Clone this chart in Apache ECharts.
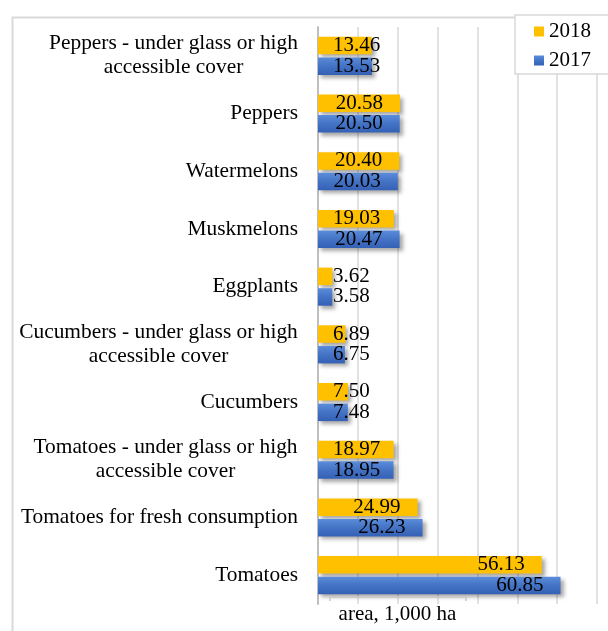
<!DOCTYPE html>
<html>
<head>
<meta charset="utf-8">
<script src="https://cdn.jsdelivr.net/npm/echarts@6/dist/echarts.min.js"></script>
<style>
  html, body { margin: 0; padding: 0; background: #fff; }
  #chart { width: 608px; height: 631px; }
</style>
</head>
<body>
<div id="chart"></div>
<script>
// Vegetable crop area, thousand hectares (bottom to top)
const categories = [
  'Tomatoes',
  'Tomatoes for fresh consumption',
  'Tomatoes - under glass or high\naccessible cover',
  'Cucumbers',
  'Cucumbers - under glass or high\naccessible cover',
  'Eggplants',
  'Muskmelons',
  'Watermelons',
  'Peppers',
  'Peppers - under glass or high\naccessible cover'
];
const values2018 = [56.13, 24.99, 18.97, 7.50, 6.89, 3.62, 19.03, 20.40, 20.58, 13.46];
const values2017 = [60.85, 26.23, 18.95, 7.48, 6.75, 3.58, 20.47, 20.03, 20.50, 13.53];
const seriesNames = ['2018', '2017'];
const axisTitle = 'area, 1,000 ha';

const FONT = '"Liberation Serif", "Times New Roman", serif';
const CAT_SIZE = 21.4;
const VAL_SIZE = 21;

// measure the lines of two-line labels so both lines can be centred within the block
const ctx = document.createElement('canvas').getContext('2d');
ctx.font = CAT_SIZE + 'px ' + FONT;
const rich = {
  s: { fontFamily: FONT, fontSize: CAT_SIZE, color: '#000', lineHeight: 24 }
};
categories.forEach((c, i) => {
  const lines = c.split('\n');
  if (lines.length > 1) {
    const w = Math.ceil(Math.max(...lines.map(l => ctx.measureText(l).width)));
    rich['w' + i] = { fontFamily: FONT, fontSize: CAT_SIZE, color: '#000', lineHeight: 24, width: w, align: 'center' };
  }
});

// labels sit at the inner end of long bars, and near the axis for short ones
function barData(vals) {
  return vals.map(v => ({
    value: v,
    label: v >= 19.85
      ? { position: 'insideRight', distance: 17 }
      : { position: 'insideLeft', distance: 15 }
  }));
}

const shadow = {
  shadowColor: 'rgba(0,0,0,0.35)',
  shadowBlur: 4,
  shadowOffsetX: 3,
  shadowOffsetY: 3
};

const labelStyle = {
  show: true,
  fontFamily: FONT,
  fontSize: VAL_SIZE,
  color: '#000',
  formatter: p => p.value.toFixed(2)
};

const chart = echarts.init(document.getElementById('chart'), null, { renderer: 'canvas' });
chart.setOption({
  animation: false,
  backgroundColor: '#fff',
  grid: { left: 318, right: 11, top: 27, bottom: 27, containLabel: false },
  legend: {
    data: seriesNames,
    orient: 'vertical',
    left: 515,
    top: 15,
    backgroundColor: '#fff',
    borderColor: '#d9d9d9',
    borderWidth: 1.5,
    padding: [6, 60, 3, 19],
    itemWidth: 10,
    itemHeight: 10,
    itemGap: 8,
    icon: 'rect',
    textStyle: { fontFamily: FONT, fontSize: 21, color: '#000' },
    z: 10
  },
  xAxis: {
    type: 'value',
    min: 0,
    max: 70,
    interval: 10,
    axisLabel: { show: false },
    axisTick: { show: false },
    axisLine: { show: false },
    splitLine: { lineStyle: { color: '#d9d9d9', width: 1.5 } },
    name: axisTitle,
    nameLocation: 'middle',
    nameGap: 0,
    nameTextStyle: {
      fontFamily: FONT, fontSize: 21, color: '#000',
      padding: [0, 120, 0, 0]
    }
  },
  yAxis: {
    type: 'category',
    data: categories,
    axisTick: { show: false },
    axisLine: { show: true, lineStyle: { color: '#bfbfbf', width: 2 } },
    axisLabel: {
      margin: 20,
      align: 'right',
      rich: rich,
      formatter: (val, idx) => {
        const lines = val.split('\n');
        if (lines.length === 1) return '{s|' + val + '}';
        return lines.map(l => '{w' + idx + '|' + l + '}').join('\n');
      }
    }
  },
  series: [
    {
      name: '2018',
      type: 'bar',
      data: barData(values2018),
      barGap: '18%',
      barCategoryGap: '34%',
      itemStyle: Object.assign({ color: '#ffc000' }, shadow),
      label: labelStyle
    },
    {
      name: '2017',
      type: 'bar',
      data: barData(values2017),
      barGap: '18%',
      barCategoryGap: '34%',
      itemStyle: Object.assign({
        color: new echarts.graphic.LinearGradient(0, 0, 0, 1, [
          { offset: 0, color: '#5b8ddb' },
          { offset: 0.5, color: '#4472c4' },
          { offset: 1, color: '#3461b6' }
        ])
      }, shadow),
      label: labelStyle
    }
  ],
  graphic: [
    {
      type: 'rect',
      left: 10, top: 15,
      shape: { width: 640, height: 660 },
      style: { fill: 'none', stroke: '#d9d9d9', lineWidth: 2 },
      z: -1,
      silent: true
    },
    {
      type: 'polyline',
      shape: { points: [[330, 601], [330, 597], [466, 597], [466, 601]] },
      style: { fill: 'none', stroke: '#c8c8c8', lineWidth: 1.5 },
      z: 5,
      silent: true
    }
  ]
});
</script>
</body>
</html>
